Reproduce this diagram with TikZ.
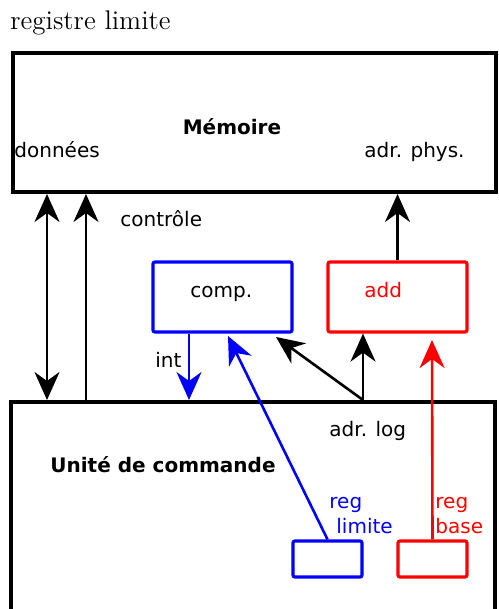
\documentclass[tikz,border=0pt]{standalone}
\usepackage{fontspec}
\setsansfont{DejaVu Sans}
\usetikzlibrary{arrows.meta}
\tikzset{
	boite/.style={draw,line width=2pt,inner sep=0pt},
	petite/.style={draw,line width=1.6pt,rounded corners=1pt,inner sep=0pt},
	pointe/.tip={Stealth[length=14pt,width=12.5pt,inset=4.5pt]},
	fleche/.style={line width=1.3pt,-pointe},
	etiq/.style={font=\sffamily\fontsize{10}{12}\selectfont,inner sep=0pt,anchor=base west},
}
\begin{document}
\begin{tikzpicture}[x=0.5pt,y=-0.5pt]
				\useasboundingbox (0,0) rectangle (498,609);
				\node[anchor=base west,inner sep=0pt,font=\fontsize{13.5}{15}\selectfont] (titre) at (10,30) {registre limite};
				\node[boite,minimum width=241.5pt,minimum height=69.5pt] (mem) at (254.5,122.5) {};
				\node[boite,minimum width=242pt,minimum height=109pt] (uc) at (253,511) {};
				\node[petite,blue,minimum width=69.5pt,minimum height=35pt] (comp) at (222.5,297) {};
				\node[petite,red,minimum width=69.5pt,minimum height=35pt] (add) at (397.5,297) {};
				\node[petite,blue,minimum width=34.5pt,minimum height=18pt] (lim) at (327.5,559) {};
				\node[petite,red,minimum width=34.5pt,minimum height=18pt] (base) at (432.5,559) {};
				\node[etiq,font=\sffamily\bfseries\fontsize{10}{12}\selectfont,anchor=center] (lmem) at (232,127) {Mémoire};
				\node[etiq] (ldon) at (14,158) {données};
				\node[etiq] (lphys) at (364,158) {adr. phys.};
				\node[etiq] (lctrl) at (120,227) {contrôle};
				\node[etiq] (lcomp) at (190,297) {comp.};
				\node[etiq,red] (ladd) at (364,297) {add};
				\node[etiq] (lint) at (155,367) {int};
				\node[etiq,font=\sffamily\bfseries\fontsize{10}{12}\selectfont] (luc) at (50,472) {Unité de commande};
				\node[etiq] (llog) at (329,436) {adr. log};
				\node[etiq,blue] (lreg1) at (329,508) {reg};
				\node[etiq,blue] (llim) at (336,533) {limite};
				\node[etiq,red] (lreg2) at (435,508) {reg};
				\node[etiq,red] (lbase) at (435,533) {base};
				\coordinate (xa) at (47,0);
				\coordinate (xb) at (86,0);
				\coordinate (xi) at (189,0);
				\coordinate (xl) at (363,0);
				\coordinate (pc) at (276,337);
				\coordinate (pl) at (228,336);
				\coordinate (pb) at (432,340);
				\draw[fleche,pointe-pointe] (mem.south -| xa) -- (uc.north -| xa);
				\draw[fleche] (uc.north -| xb) -- (mem.south -| xb);
				\draw[fleche] (add.north) -- (mem.south -| add.north);
				\draw[fleche,blue] (comp.south -| xi) -- (uc.north -| xi);
				\draw[fleche] (uc.north -| xl) -- (add.south -| xl);
				\draw[fleche] (uc.north -| xl) -- (pc);
				\draw[fleche,blue] (lim.north) -- (pl);
				\draw[fleche,red] (base.north) -- (pb);
		\end{tikzpicture}
\end{document}
